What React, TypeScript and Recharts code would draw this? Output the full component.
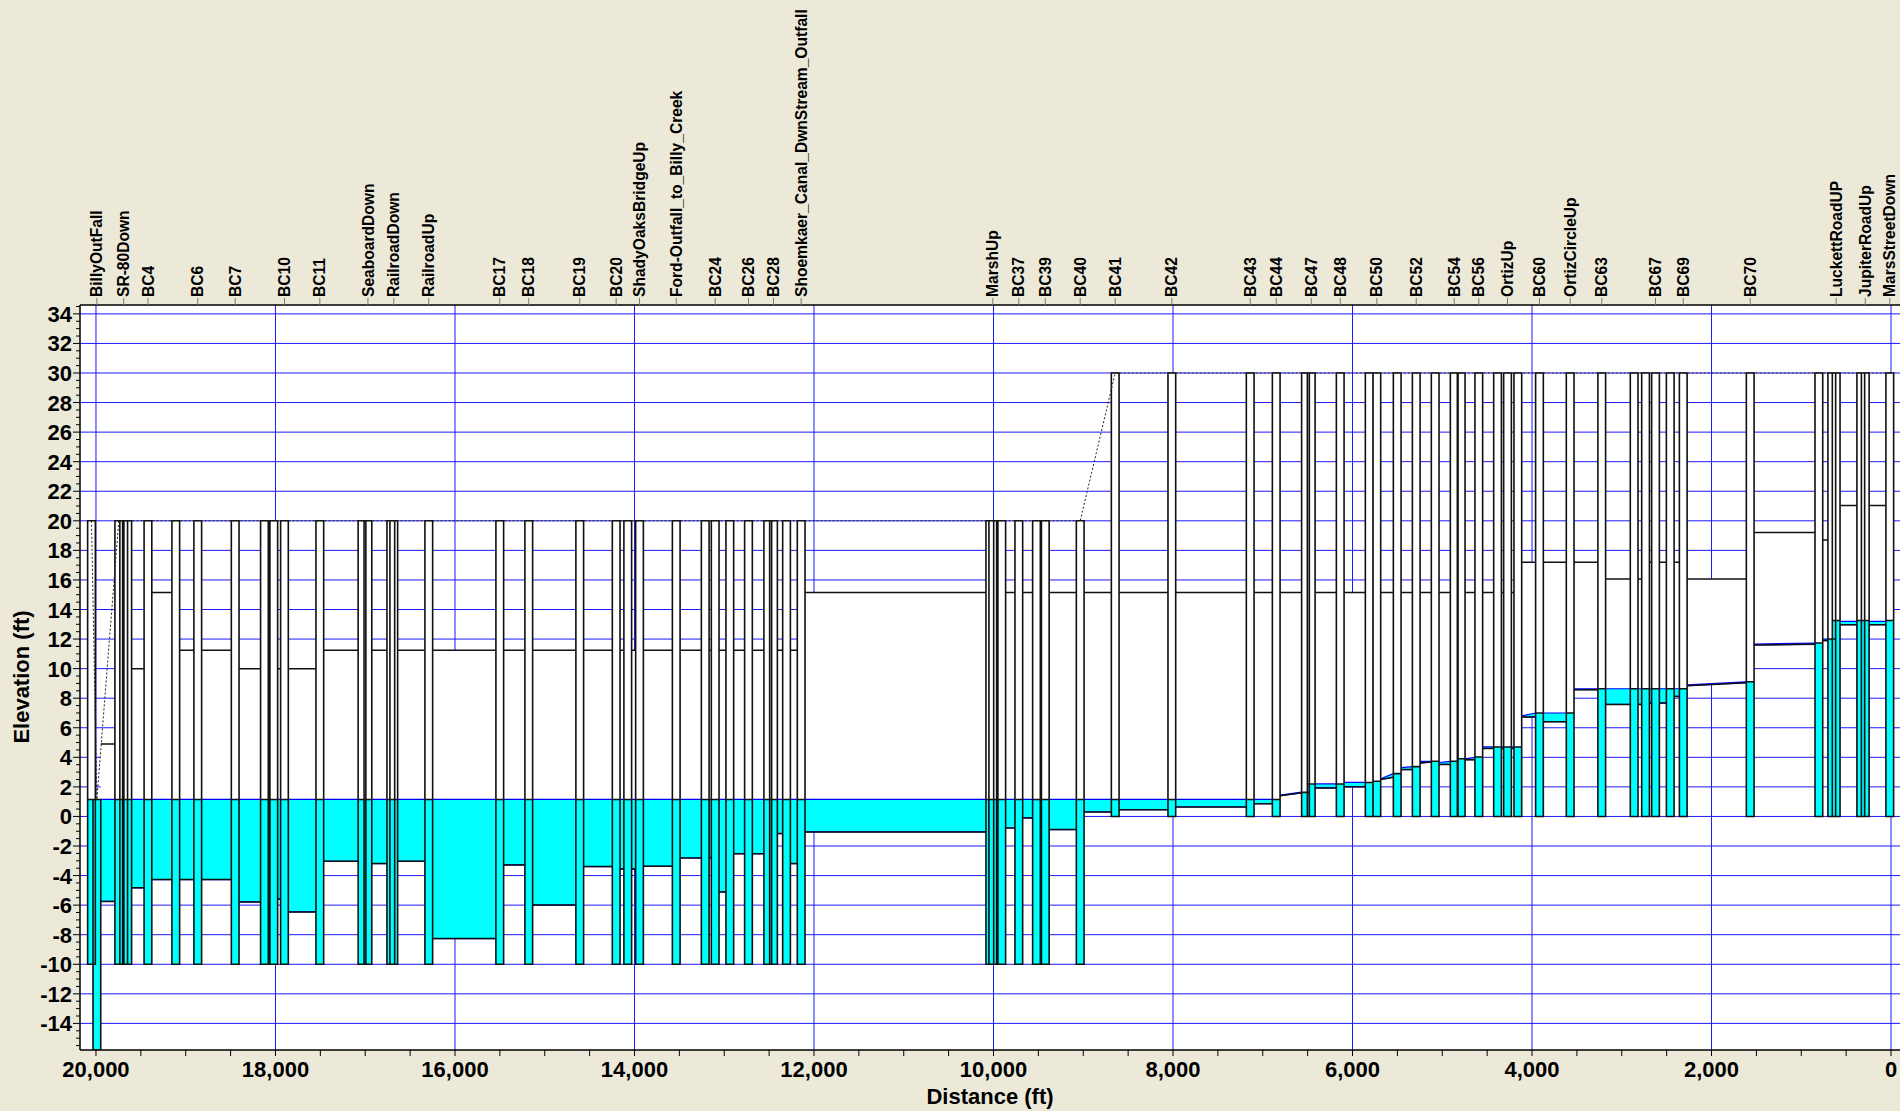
import React from 'react';
import { ComposedChart, Area, Line, XAxis, YAxis, CartesianGrid } from 'recharts';

// node positions (ft from MarsStreetDown), names shown on top ('' = not labelled)
const nodeDist = [
  20050, 19990, 19746, 19691, 19646, 19421, 19111, 18866, 18449, 18123,
  18019, 17900, 17506, 17036, 16970, 16715, 16682, 16292, 15501, 15178,
  14610, 14204, 14075, 13944, 13535, 13212, 13101, 12938, 12730, 12515,
  12451, 12306, 12143, 10041, 10008, 9908, 9718, 9521, 9423, 9034,
  8644, 8013, 7140, 6850, 6524, 6460, 6137, 5814, 5729, 5502,
  5290, 5079, 4867, 4789, 4593, 4384, 4273, 4158, 3917, 3575,
  3223, 2862, 2735, 2624, 2460, 2315, 1569, 804, 660, 611,
  337, 287, 14,
];
const nodeName = [
  '', 'BillyOutFall', '', 'SR-80Down', '', 'BC4', '', 'BC6', 'BC7', '',
  '', 'BC10', 'BC11', '', 'SeaboardDown', '', 'RailroadDown', 'RailroadUp', 'BC17', 'BC18',
  'BC19', 'BC20', '', 'ShadyOaksBridgeUp', 'Ford-Outfall_to_Billy_Creek', '', 'BC24', '', 'BC26', '',
  'BC28', '', 'Shoemkaer_Canal_DwnStream_Outfall', '', 'MarshUp', '', 'BC37', '', 'BC39', 'BC40',
  'BC41', 'BC42', 'BC43', 'BC44', '', 'BC47', 'BC48', '', 'BC50', '',
  'BC52', '', 'BC54', '', 'BC56', '', 'OrtizUp', '', 'BC60', 'OrtizCircleUp',
  'BC63', '', '', 'BC67', '', 'BC69', 'BC70', '', '', 'LuckettRoadUP',
  '', 'JupiterRoadUp', 'MarsStreetDown',
];
const nodeInvert = [
  -10, -15.8, -10, -10, -10, -10, -10, -10, -10, -10,
  -10, -10, -10, -10, -10, -10, -10, -10, -10, -10,
  -10, -10, -10, -10, -10, -10, -10, -10, -10, -10,
  -10, -10, -10, -10, -10, -10, -10, -10, -10, -10,
  0, 0, 0, 0, 0, 0, 0, 0, 0, 0,
  0, 0, 0, 0, 0, 0, 0, 0, 0, 0,
  0, 0, 0, 0, 0, 0, 0, 0, 0, 0,
  0, 0, 0,
];
const nodeRim = [
  20, 1.15, 20, 20, 20, 20, 20, 20, 20, 20,
  20, 20, 20, 20, 20, 20, 20, 20, 20, 20,
  20, 20, 20, 20, 20, 20, 20, 20, 20, 20,
  20, 20, 20, 20, 20, 20, 20, 20, 20, 20,
  30, 30, 30, 30, 30, 30, 30, 30, 30, 30,
  30, 30, 30, 30, 30, 30, 30, 30, 30, 30,
  30, 30, 30, 30, 30, 30, 30, 30, 30, 30,
  30, 30, 30,
];
const nodeWater = [
  1.15, 1.15, 1.15, 1.15, 1.15, 1.15, 1.15, 1.15, 1.15, 1.15,
  1.15, 1.15, 1.15, 1.15, 1.15, 1.15, 1.15, 1.15, 1.15, 1.15,
  1.15, 1.15, 1.15, 1.15, 1.15, 1.15, 1.15, 1.15, 1.15, 1.15,
  1.15, 1.15, 1.15, 1.15, 1.15, 1.15, 1.15, 1.15, 1.15, 1.15,
  1.15, 1.15, 1.15, 1.15, 1.63, 2.2, 2.2, 2.3, 2.38, 2.9,
  3.37, 3.73, 3.73, 3.9, 4.02, 4.7, 4.7, 4.7, 7.0, 7.0,
  8.64, 8.64, 8.64, 8.64, 8.64, 8.64, 9.11, 11.73, 12.0, 13.26,
  13.26, 13.26, 13.26,
];

// conduits between consecutive nodes (left end / right end)
const linkCrown = [
  4.9, 4.9, 10, 10, 10, 15.15, 11.25, 11.25, 10, 10,
  10, 10, 11.25, 11.25, 11.25, 11.25, 11.25, 11.25, 11.25, 11.25,
  11.25, 11.25, 11.25, 11.25, 11.25, 11.25, 11.25, 11.25, 11.25, 11.25,
  11.25, 11.25, 15.15, 15.15, 15.15, 15.15, 15.15, 15.15, 15.15, 15.15,
  15.15, 15.15, 15.15, 15.15, 15.15, 15.15, 15.15, 15.15, 15.15, 15.15,
  15.15, 15.15, 15.15, 15.15, 15.15, 15.15, 15.15, 17.2, 17.2, 17.2,
  16.06, 16.06, 17.2, 17.2, 17.2, 16.06, 19.21, 18.7, 21.03, 21.03,
  21.03, 21.03,
];
const linkInvertUp = [
  -5.75, -5.75, -4.83, -4.83, -4.83, -4.27, -4.27, -4.27, -5.78, -5.78,
  -5.58, -6.46, -3.03, -3.03, -3.19, -3.19, -3.03, -8.26, -3.28, -5.99,
  -3.39, -3.55, -3.55, -3.37, -2.81, -2.81, -5.11, -2.52, -2.52, -2.52,
  -1.16, -3.19, -1.05, -1.05, -0.78, -0.78, -0.1, -0.1, -0.89, 0.3,
  0.46, 0.64, 0.86, 1.4, 1.93, 1.93, 2.01, 2.2, 2.5, 3.17,
  3.62, 3.52, 3.84, 3.84, 4.6, 4.6, 4.6, 6.73, 6.41, 8.57,
  7.58, 7.58, 7.67, 7.67, 8.12, 8.85, 11.6, 11.9, 12.97, 12.97,
  12.97, 12.97,
];
const linkInvertDn = [
  -5.75, -5.75, -4.83, -4.83, -4.83, -4.27, -4.27, -4.27, -5.78, -5.78,
  -5.58, -6.46, -3.03, -3.03, -3.19, -3.19, -3.03, -8.26, -3.28, -5.99,
  -3.39, -3.55, -3.55, -3.37, -2.81, -2.81, -5.11, -2.52, -2.52, -2.52,
  -1.16, -3.19, -1.05, -1.05, -0.78, -0.78, -0.1, -0.1, -0.89, 0.3,
  0.46, 0.64, 0.86, 1.6, 1.93, 1.93, 2.01, 2.2, 2.65, 3.17,
  3.68, 3.52, 3.84, 3.84, 4.6, 4.6, 4.6, 6.73, 6.41, 8.57,
  7.58, 7.58, 7.67, 7.67, 8.12, 9.05, 11.65, 11.9, 12.97, 12.97,
  12.97, 12.97,
];
const linkWaterUp = [
  1.15, 1.15, 1.15, 1.15, 1.15, 1.15, 1.15, 1.15, 1.15, 1.15,
  1.15, 1.15, 1.15, 1.15, 1.15, 1.15, 1.15, 1.15, 1.15, 1.15,
  1.15, 1.15, 1.15, 1.15, 1.15, 1.15, 1.15, 1.15, 1.15, 1.15,
  1.15, 1.15, 1.15, 1.15, 1.15, 1.15, 1.15, 1.15, 1.15, 1.15,
  1.15, 1.15, 1.15, 1.45, 2.2, 2.2, 2.3, 2.38, 2.55, 3.3,
  3.73, 3.65, 3.9, 3.9, 4.7, 4.7, 4.7, 6.8, 7.0, 8.64,
  8.64, 8.64, 8.64, 8.64, 8.64, 8.9, 11.66, 12.0, 13.2, 13.2,
  13.2, 13.2,
];
const linkWaterDn = [
  1.15, 1.15, 1.15, 1.15, 1.15, 1.15, 1.15, 1.15, 1.15, 1.15,
  1.15, 1.15, 1.15, 1.15, 1.15, 1.15, 1.15, 1.15, 1.15, 1.15,
  1.15, 1.15, 1.15, 1.15, 1.15, 1.15, 1.15, 1.15, 1.15, 1.15,
  1.15, 1.15, 1.15, 1.15, 1.15, 1.15, 1.15, 1.15, 1.15, 1.15,
  1.15, 1.15, 1.15, 1.65, 2.2, 2.2, 2.3, 2.38, 2.9, 3.37,
  3.73, 3.73, 3.9, 4.0, 4.7, 4.7, 4.7, 7.0, 7.0, 8.64,
  8.64, 8.64, 8.64, 8.64, 8.64, 9.11, 11.73, 12.0, 13.2, 13.2,
  13.2, 13.2,
];

const xLabels = [0, 2000, 4000, 6000, 8000, 10000, 12000, 14000, 16000, 18000, 20000];
const yLabels = [-14, -12, -10, -8, -6, -4, -2, 0, 2, 4, 6, 8, 10, 12, 14, 16, 18, 20, 22, 24, 26, 28, 30, 32, 34];

const HALF = 43; // half width of a node box, ft
const FONT = '"Liberation Sans", Arial, Helvetica, sans-serif';

const linkData: any[] = [];
linkCrown.forEach((crown, k) => {
  const xa = nodeDist[k] - HALF;
  const xb = nodeDist[k + 1] + HALF;
  linkData.push({ x: xa, pipe: [linkInvertUp[k], crown], water: [linkInvertUp[k], linkWaterUp[k]] });
  linkData.push({ x: xb, pipe: [linkInvertDn[k], crown], water: [linkInvertDn[k], linkWaterDn[k]] });
  linkData.push({ x: xb, pipe: null, water: null });
});

const nodeData: any[] = [];
const outlineData: any[] = [];
nodeDist.forEach((d, i) => {
  const inv = nodeInvert[i];
  const rim = nodeRim[i];
  const wl = nodeWater[i];
  nodeData.push({ x: d + HALF, body: [inv, rim], water: [inv, wl] });
  nodeData.push({ x: d - HALF, body: [inv, rim], water: [inv, wl] });
  nodeData.push({ x: d - HALF, body: null, water: null });
  outlineData.push(
    { x: d + HALF, y: inv }, { x: d + HALF, y: rim }, { x: d - HALF, y: rim },
    { x: d - HALF, y: inv }, { x: d + HALF, y: inv }, { x: d + HALF, y: wl },
    { x: d - HALF, y: wl }, { x: d - HALF, y: null },
  );
});
const groundData = nodeDist.map((d, i) => ({ x: d, y: nodeRim[i] }));

const labelTicks = nodeDist.filter((_, i) => nodeName[i] !== '');
const xMinor = Array.from({ length: 41 }, (_, i) => i * 500);
const yMinor = Array.from({ length: 101 }, (_, i) => Math.round((-15.5 + i * 0.5) * 10) / 10);

const TopTick = (props: any) => {
  const { x, y, payload } = props;
  const i = nodeDist.indexOf(payload.value);
  return (
    <g>
      <line x1={x} x2={x} y1={y} y2={y - 7} stroke="#777" />
      <text
        transform={`translate(${x + 5.6},${y - 8}) rotate(-90)`}
        fontSize={15.6}
        fontWeight="bold"
        fontFamily={FONT}
        fill="#000"
      >
        {nodeName[i]}
      </text>
    </g>
  );
};

const BottomTick = (props: any) => {
  const { x, y, payload } = props;
  const major = xLabels.includes(payload.value);
  return (
    <g>
      <line x1={x} x2={x} y1={y} y2={y + 6} stroke="#000" />
      {major && (
        <text x={x} y={y + 27} textAnchor="middle" fontSize={22} fontWeight="bold" fontFamily={FONT} fill="#000">
          {payload.value.toLocaleString('en-US')}
        </text>
      )}
    </g>
  );
};

const LeftTick = (props: any) => {
  const { x, y, payload } = props;
  const major = yLabels.includes(payload.value);
  return (
    <g>
      <line x1={x} x2={x - (major ? 7 : 4)} y1={y} y2={y} stroke="#000" />
      {major && (
        <text x={x - 8} y={y + 8} textAnchor="end" fontSize={22} fontWeight="bold" fontFamily={FONT} fill="#000">
          {payload.value}
        </text>
      )}
    </g>
  );
};

export default function App() {
  return (
    <div style={{ position: 'absolute', left: 0, top: 0, width: 1900, height: 1111, background: '#ECE9D8', fontFamily: FONT }}>
      <ComposedChart width={1900} height={1111} margin={{ top: 0, right: 0, bottom: 0, left: 0 }}>
        <CartesianGrid
          xAxisId="b"
          fill="#ffffff"
          fillOpacity={1}
          stroke="#1a1aff"
          strokeWidth={1}
          horizontalValues={yLabels}
          verticalValues={xLabels}
        />
        <XAxis
          xAxisId="top"
          orientation="top"
          type="number"
          dataKey="x"
          domain={[-100, 20178]}
          allowDataOverflow
          reversed
          height={305}
          ticks={labelTicks}
          interval={0}
          tickLine={false}
          tickSize={0}
          tickMargin={0}
          tick={TopTick}
          axisLine={{ stroke: '#000', strokeWidth: 1.5 }}
        />
        <XAxis
          xAxisId="b"
          orientation="bottom"
          type="number"
          dataKey="x"
          domain={[-100, 20178]}
          allowDataOverflow
          reversed
          height={61}
          ticks={xMinor}
          interval={0}
          tickLine={false}
          tickSize={0}
          tickMargin={0}
          tick={BottomTick}
          axisLine={{ stroke: '#000', strokeWidth: 1.5 }}
        />
        <YAxis
          type="number"
          domain={[-15.8, 34.6]}
          allowDataOverflow
          width={80}
          ticks={yMinor}
          interval={0}
          tickLine={false}
          tickSize={0}
          tickMargin={0}
          tick={LeftTick}
          axisLine={{ stroke: '#000', strokeWidth: 1.5 }}
        />
        <Area xAxisId="b" data={linkData} dataKey="pipe" type="linear" fill="#ffffff" fillOpacity={1} stroke="none" isAnimationActive={false} dot={false} activeDot={false} />
        <Area xAxisId="b" data={linkData} dataKey="water" type="linear" fill="#00ffff" fillOpacity={1} stroke="#0000ff" strokeWidth={1.2} isAnimationActive={false} dot={false} activeDot={false} />
        <Area xAxisId="b" data={linkData} dataKey="pipe" type="linear" fill="none" stroke="#111" strokeWidth={1.5} isAnimationActive={false} dot={false} activeDot={false} />
        <Area xAxisId="b" data={nodeData} dataKey="body" type="linear" fill="#ffffff" fillOpacity={1} stroke="none" isAnimationActive={false} dot={false} activeDot={false} />
        <Area xAxisId="b" data={nodeData} dataKey="water" type="linear" fill="#00ffff" fillOpacity={1} stroke="none" isAnimationActive={false} dot={false} activeDot={false} />
        <Line xAxisId="b" data={outlineData} dataKey="y" type="linear" stroke="#111" strokeWidth={1.6} dot={false} activeDot={false} isAnimationActive={false} />
        <Line xAxisId="b" data={groundData} dataKey="y" type="linear" stroke="#222" strokeWidth={1} strokeDasharray="2 2" dot={false} activeDot={false} isAnimationActive={false} />
      </ComposedChart>
      <div style={{ position: 'absolute', left: 80, width: 1820, top: 1084, textAlign: 'center', fontSize: 22, fontWeight: 'bold', lineHeight: '26px', color: '#000' }}>
        Distance (ft)
      </div>
      <div
        style={{
          position: 'absolute', left: 22, top: 677, transform: 'translate(-50%, -50%) rotate(-90deg)',
          whiteSpace: 'nowrap', fontSize: 22, fontWeight: 'bold', lineHeight: '26px', color: '#000',
        }}
      >
        Elevation (ft)
      </div>
    </div>
  );
}
